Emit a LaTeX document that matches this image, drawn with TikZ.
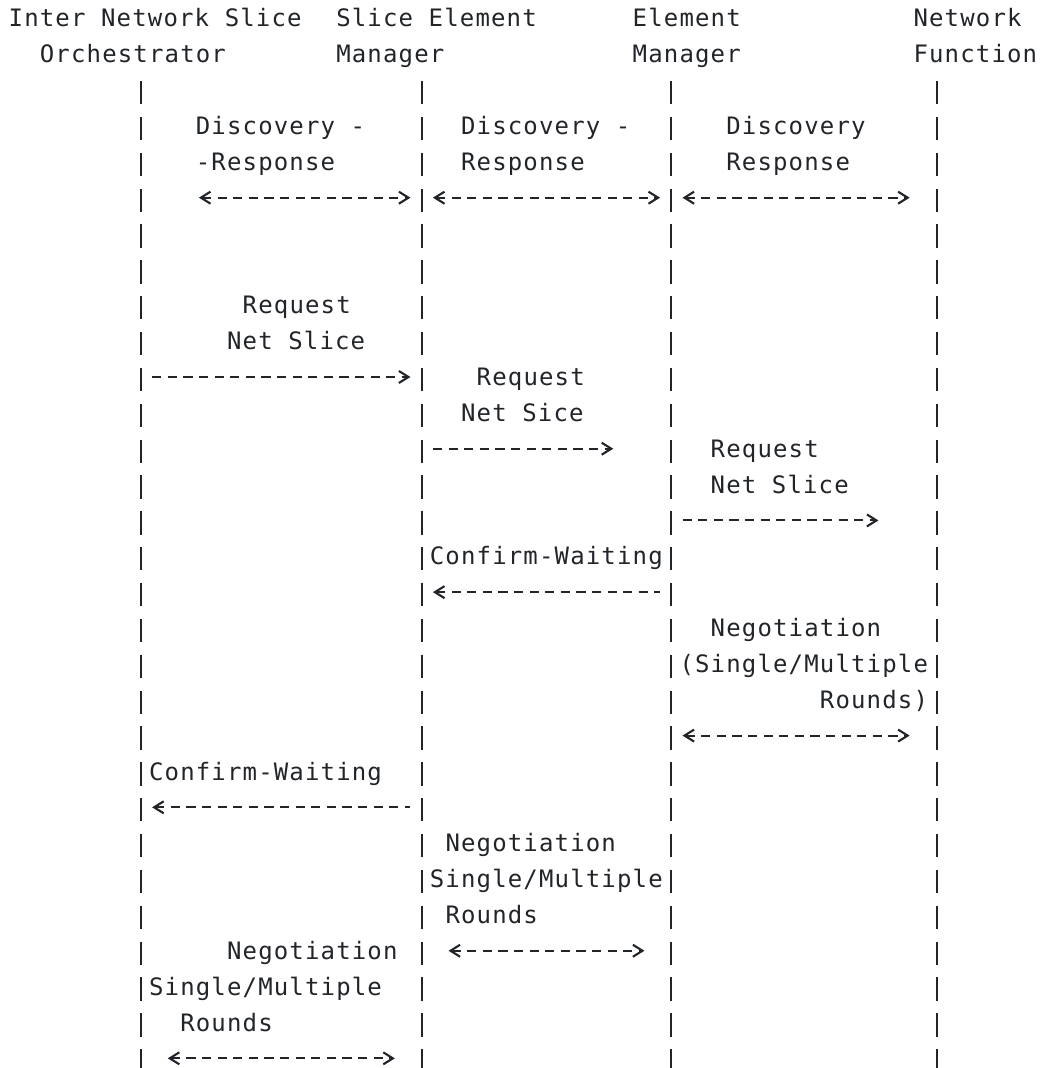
\documentclass[tikz,border=0pt]{standalone}
\usepackage{fontspec}
\usepackage{xcolor}
\usepackage{tikz}
\usetikzlibrary{arrows.meta}
\newfontfamily\asciifont[LetterSpace=4.8]{DejaVu Sans Mono}
\definecolor{ink}{RGB}{33, 37, 41}

\begin{document}
\begin{tikzpicture}[
    x=7.8pt, y=-17.93pt,
    >={Straight Barb[length=4.8pt,width=6pt]},
    txt/.style={inner sep=0pt, anchor=base west, text=ink,
        font=\asciifont\fontsize{12}{14}\selectfont},
    lifeline/.style={draw=ink, line width=1pt,
        dash pattern=on 11.65pt off 6.28pt},
    msg/.style={draw=ink, line width=1.05pt,
        dash pattern=on 4.6pt off 3.2pt}
]
\useasboundingbox (-0.532,0.247) rectangle (66.2,30.03);

% Headers
\node[txt] (insoA) at (0,1) {Inter Network Slice};
\node[txt] (insoB) at (2,2) {Orchestrator};
\node[txt] (semA) at (21,1) {Slice Element};
\node[txt] (semB) at (21,2) {Manager};
\node[txt] (emA) at (40,1) {Element};
\node[txt] (emB) at (40,2) {Manager};
\node[txt] (nfA) at (58,1) {Network};
\node[txt] (nfB) at (58,2) {Function};

% Lifelines
\coordinate (inso-top) at (8.5,2.504);
\coordinate (inso-bot) at (8.5,30.03);
\coordinate (sem-top) at (26.5,2.504);
\coordinate (sem-bot) at (26.5,30.03);
\coordinate (em-top) at (42.5,2.504);
\coordinate (em-bot) at (42.5,30.03);
\coordinate (nf-top) at (59.5,2.504);
\coordinate (nf-bot) at (59.5,30.03);

\draw[lifeline] (inso-top) -- (inso-bot);
\draw[lifeline] (sem-top) -- (sem-bot);
\draw[lifeline] (em-top) -- (em-bot);
\draw[lifeline] (nf-top) -- (nf-bot);

% Discovery
\node[txt] (disc1a) at (12,4) {Discovery -};
\node[txt] (disc1b) at (12,5) {-Response};
\node[txt] (disc2a) at (29,4) {Discovery -};
\node[txt] (disc2b) at (29,5) {Response};
\node[txt] (disc3a) at (46,4) {Discovery};
\node[txt] (disc3b) at (46,5) {Response};

\coordinate (disc1-l) at (12.22,5.76);
\coordinate (disc1-r) at (25.78,5.76);
\coordinate (disc2-l) at (27.22,5.76);
\coordinate (disc2-r) at (41.78,5.76);
\coordinate (disc3-l) at (43.22,5.76);
\coordinate (disc3-r) at (57.78,5.76);

\draw[msg, <->] (disc1-l) -- (disc1-r);
\draw[msg, <->] (disc2-l) -- (disc2-r);
\draw[msg, <->] (disc3-l) -- (disc3-r);

% Request net slice
\node[txt] (req1a) at (15,9) {Request};
\node[txt] (req1b) at (14,10) {Net Slice};
\node[txt] (req2a) at (30,11) {Request};
\node[txt] (req2b) at (29,12) {Net Sice};
\node[txt] (req3a) at (45,13) {Request};
\node[txt] (req3b) at (45,14) {Net Slice};

\coordinate (req1-l) at (9.22,10.76);
\coordinate (req1-r) at (25.78,10.76);
\coordinate (req2-l) at (27.22,12.76);
\coordinate (req2-r) at (38.78,12.76);
\coordinate (req3-l) at (43.22,14.76);
\coordinate (req3-r) at (55.78,14.76);

\draw[msg, ->] (req1-l) -- (req1-r);
\draw[msg, ->] (req2-l) -- (req2-r);
\draw[msg, ->] (req3-l) -- (req3-r);

% Confirm and negotiation
\node[txt] (conf1) at (27,16) {Confirm-Waiting};
\coordinate (conf1-l) at (27.22,16.76);
\coordinate (conf1-r) at (41.78,16.76);
\draw[msg, <-] (conf1-l) -- (conf1-r);

\node[txt] (neg3a) at (45,18) {Negotiation};
\node[txt] (neg3b) at (43,19) {(Single/Multiple};
\node[txt] (neg3c) at (52,20) {Rounds)};
\coordinate (neg3-l) at (43.22,20.76);
\coordinate (neg3-r) at (57.78,20.76);
\draw[msg, <->] (neg3-l) -- (neg3-r);

\node[txt] (conf2) at (9,22) {Confirm-Waiting};
\coordinate (conf2-l) at (9.22,22.76);
\coordinate (conf2-r) at (25.78,22.76);
\draw[msg, <-] (conf2-l) -- (conf2-r);

\node[txt] (neg2a) at (28,24) {Negotiation};
\node[txt] (neg2b) at (27,25) {Single/Multiple};
\node[txt] (neg2c) at (28,26) {Rounds};
\coordinate (neg2-l) at (28.22,26.76);
\coordinate (neg2-r) at (40.78,26.76);
\draw[msg, <->] (neg2-l) -- (neg2-r);

\node[txt] (neg1a) at (14,27) {Negotiation};
\node[txt] (neg1b) at (9,28) {Single/Multiple};
\node[txt] (neg1c) at (11,29) {Rounds};
\coordinate (neg1-l) at (10.22,29.76);
\coordinate (neg1-r) at (24.78,29.76);
\draw[msg, <->] (neg1-l) -- (neg1-r);

\end{tikzpicture}
\end{document}
